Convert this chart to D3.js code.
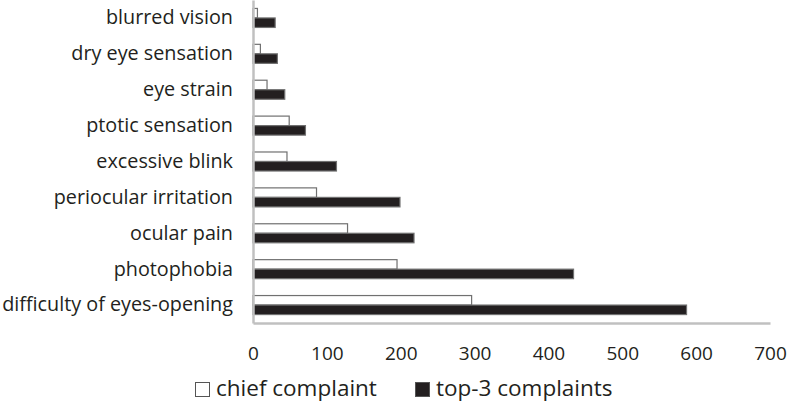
<!DOCTYPE html>
<html><head><meta charset="utf-8">
<script src="https://cdn.jsdelivr.net/npm/d3@7"></script>
<style>body{margin:0;background:#fff}svg{display:block}</style>
</head><body>
<svg id="c" width="800" height="402"></svg>
<script>
const categories = ["blurred vision","dry eye sensation","eye strain","ptotic sensation","excessive blink","periocular irritation","ocular pain","photophobia","difficulty of eyes-opening"];
const chiefComplaint = [6,10,19,49,46,86,128,195,296];
const top3Complaints = [30,33,43,71,113,199,218,434,587];
const seriesNames = ["chief complaint","top-3 complaints"];
const xTicks = [0,100,200,300,400,500,600,700];

const svg = d3.select("#c");
const font = "'Open Sans', sans-serif";
const textColor = "#231f20";
const x = d3.scaleLinear().domain([0,700]).range([253,770]);
const y = d3.scaleBand().domain(categories).range([0,323]).paddingInner(0.47).paddingOuter(0.235);
const ys = d3.scaleBand().domain(seriesNames).range([0,y.bandwidth()]);
const fills = {"chief complaint":"#ffffff","top-3 complaints":"#231f20"};

const data = categories.map((c,i)=>({c, vals:[{s:seriesNames[0],v:chiefComplaint[i]},{s:seriesNames[1],v:top3Complaints[i]}]}));

const g = svg.append("g");
g.selectAll("g.cat").data(data).join("g").attr("class","cat")
 .attr("transform",d=>`translate(0,${y(d.c)})`)
 .selectAll("rect").data(d=>d.vals).join("rect")
 .attr("x",x(0)).attr("y",d=>ys(d.s)).attr("height",ys.bandwidth())
 .attr("width",d=>x(d.v)-x(0))
 .attr("fill",d=>fills[d.s]).attr("stroke","#707070").attr("stroke-width",1.2);

// axes
const xa = svg.append("g").attr("transform","translate(0,323)").call(d3.axisBottom(x).tickValues(xTicks).tickSize(0).tickPadding(24));
xa.select(".domain").attr("stroke","#c0c0c0").attr("stroke-width",2.5);
xa.selectAll("text").attr("font-family",font).attr("font-size",19).attr("fill",textColor);

const ya = svg.append("g").attr("transform","translate(253,0)").call(d3.axisLeft(y).tickSize(0).tickPadding(20));
ya.select(".domain").attr("stroke","#c0c0c0").attr("stroke-width",2.5);
ya.selectAll("text").attr("font-family",font).attr("font-size",19.8).attr("fill",textColor);

// legend
const legX = [195, 415];
const leg = svg.append("g").selectAll("g").data(seriesNames).join("g")
  .attr("transform",(d,i)=>`translate(${legX[i]},389)`);
leg.append("rect").attr("x",0.5).attr("y",-6.5).attr("width",14).attr("height",14)
  .attr("fill",d=>fills[d]).attr("stroke","#555").attr("stroke-width",1);
leg.append("text").attr("x",(d,i)=>i===0?21:21).attr("y",0).attr("dy","0.3em")
  .attr("font-family",font).attr("font-size",22.5).attr("fill",textColor).text(d=>d);
</script>
</body></html>
